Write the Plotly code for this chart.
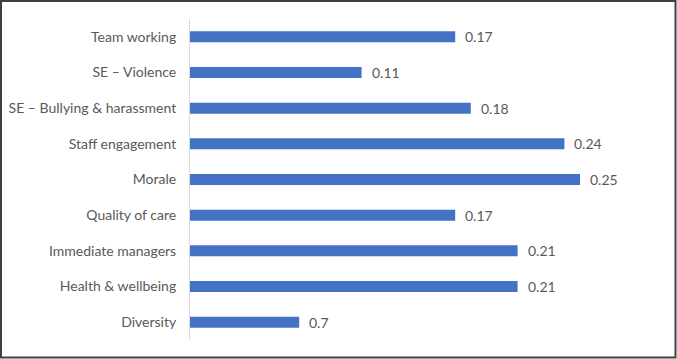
import plotly.graph_objects as go

categories = ["Team working", "SE – Violence", "SE – Bullying & harassment",
              "Staff engagement", "Morale", "Quality of care",
              "Immediate managers", "Health & wellbeing", "Diversity"]
values = [0.17, 0.11, 0.18, 0.24, 0.25, 0.17, 0.21, 0.21, 0.07]
value_labels = ["0.17", "0.11", "0.18", "0.24", "0.25", "0.17", "0.21", "0.21", "0.7"]

W, H = 677, 359
ml, mr, mt, mb = 190, 19, 19, 19
pw, ph = W - ml - mr, H - mt - mb

fig = go.Figure(go.Bar(
    x=values, y=categories, orientation="h",
    marker=dict(color="#4472C4", line=dict(width=0)),
    width=0.31,
))

for v, c, t in zip(values, categories, value_labels):
    fig.add_annotation(x=v, y=c, text=t, showarrow=False, xanchor="left",
                       xshift=8, font=dict(family="Lato", size=14, color="#595959"))

fig.add_shape(type="rect", xref="paper", yref="paper",
              x0=(1 - ml) / pw, x1=(675.5 - ml) / pw,
              y0=(mt + ph - 357.5) / ph, y1=(mt + ph - 1) / ph,
              line=dict(color="#404040", width=2))

fig.update_layout(
    width=W, height=H,
    margin=dict(l=ml, r=mr, t=mt, b=mb),
    paper_bgcolor="white", plot_bgcolor="white",
    showlegend=False,
    font=dict(family="Lato", size=14, color="#595959"),
    xaxis=dict(range=[0, pw / 1560], showgrid=False, zeroline=False,
               showticklabels=False, showline=False, fixedrange=True,
               automargin=False),
    yaxis=dict(categoryorder="array", categoryarray=categories,
               autorange="reversed", showgrid=False, showline=True,
               linecolor="#d9d9d9", linewidth=1, ticks="", automargin=False,
               ticklabelstandoff=10, tickfont=dict(family="Lato", size=14, color="#595959")),
)

fig.write_html("out.html")
